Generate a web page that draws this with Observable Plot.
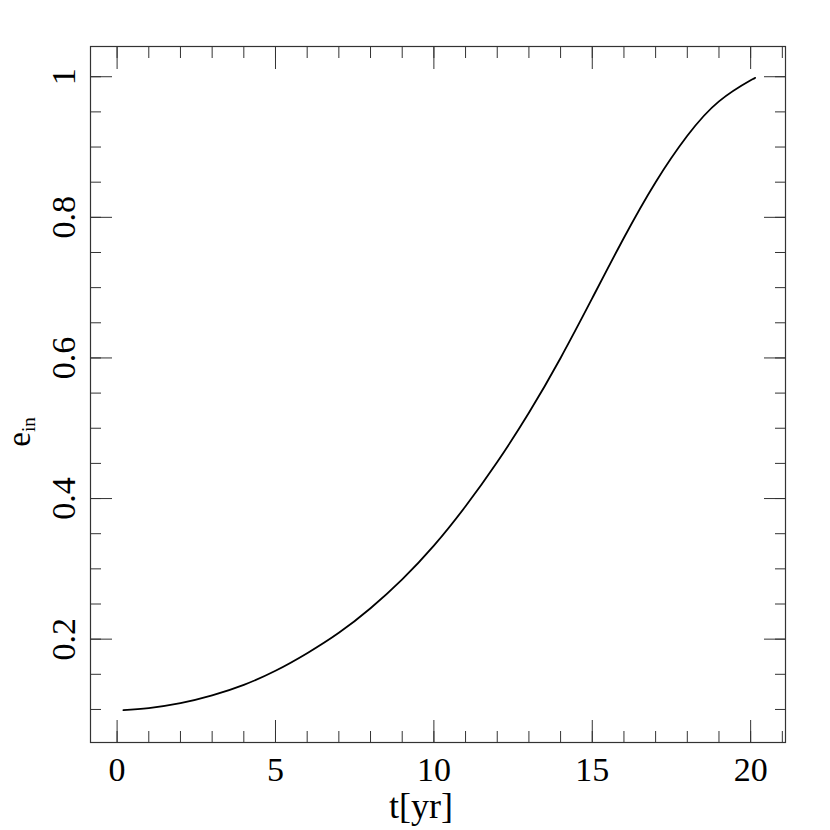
<!DOCTYPE html>
<html>
<head>
<meta charset="utf-8">
<script src="https://cdn.jsdelivr.net/npm/d3@7"></script>
<script src="https://cdn.jsdelivr.net/npm/@observablehq/plot@0.6"></script>
<style>
  html, body { margin: 0; padding: 0; background: white; }
  #chart { width: 830px; height: 830px; }
</style>
</head>
<body>
<div id="chart"></div>
<script>
// time in years
const tValues = [0.2, 1, 2, 3, 4, 5, 6, 7, 8, 9, 10, 11, 12, 13, 14, 15, 16, 17, 18, 19, 20, 20.1];
// inner eccentricity
const eValues = [0.099, 0.102, 0.109, 0.120, 0.135, 0.155, 0.180, 0.209, 0.244, 0.285, 0.333, 0.389, 0.452, 0.522, 0.600, 0.685, 0.771, 0.850, 0.916, 0.965, 0.995, 0.997];

const xMajorTicks = [0, 5, 10, 15, 20];
const xMinorTicks = [0, 1, 2, 3, 4, 5, 6, 7, 8, 9, 10, 11, 12, 13, 14, 15, 16, 17, 18, 19, 20, 21];
const yMajorTicks = [0.2, 0.4, 0.6, 0.8, 1];
const yMinorTicks = [0.1, 0.15, 0.2, 0.25, 0.3, 0.35, 0.4, 0.45, 0.5, 0.55, 0.6, 0.65, 0.7, 0.75, 0.8, 0.85, 0.9, 0.95, 1.0];
const xTickLabels = ["0", "5", "10", "15", "20"];
const yTickLabels = ["0.2", "0.4", "0.6", "0.8", "1"];

const data = tValues.map((t, i) => ({t, e: eValues[i]}));

const font = "'Liberation Serif', 'DejaVu Serif', serif";
const ink = "#000";

const chart = Plot.plot({
  width: 830,
  height: 830,
  marginLeft: 90,
  marginRight: 45,
  marginTop: 46,
  marginBottom: 88,
  x: {domain: [-0.84, 21.1], label: null},
  y: {domain: [0.053, 1.043], label: null},
  style: {fontFamily: font, fontSize: "34px", background: "white", color: ink},
  marks: [
    Plot.frame({stroke: "#333", strokeWidth: 1.2}),
    Plot.axisX(xMinorTicks, {anchor: "bottom", tickSize: -11, text: null, label: null, stroke: "#333"}),
    Plot.axisX(xMinorTicks, {anchor: "top", tickSize: -11, text: null, label: null, stroke: "#333"}),
    Plot.axisX(xMajorTicks, {anchor: "bottom", tickSize: -22, text: null, label: null, stroke: "#333"}),
    Plot.axisX(xMajorTicks, {anchor: "top", tickSize: -22, text: null, label: null, stroke: "#333"}),
    Plot.axisY(yMinorTicks, {anchor: "left", tickSize: -11, text: null, label: null, stroke: "#333"}),
    Plot.axisY(yMinorTicks, {anchor: "right", tickSize: -11, text: null, label: null, stroke: "#333"}),
    Plot.axisY(yMajorTicks, {anchor: "left", tickSize: -22, text: null, label: null, stroke: "#333"}),
    Plot.axisY(yMajorTicks, {anchor: "right", tickSize: -22, text: null, label: null, stroke: "#333"}),
    Plot.text(xMajorTicks, {
      x: d => d, frameAnchor: "bottom", dy: 14, lineAnchor: "top",
      text: (d, i) => xTickLabels[i], fontSize: 34, fill: ink
    }),
    Plot.text(yMajorTicks, {
      y: d => d, frameAnchor: "left", dx: -16, rotate: -90, lineAnchor: "bottom",
      textAnchor: "middle", text: (d, i) => yTickLabels[i], fontSize: 34, fill: ink
    }),
    Plot.line(data, {x: "t", y: "e", curve: "natural", stroke: ink, strokeWidth: 1.8})
  ]
});

document.getElementById("chart").appendChild(chart);

// axis titles
const svg = d3.select(chart);
svg.append("text")
  .attr("x", 421).attr("y", 818)
  .attr("text-anchor", "middle")
  .attr("font-family", font).attr("font-size", 36).attr("fill", ink)
  .text("t[yr]");

const yl = svg.append("text")
  .attr("transform", "translate(30,432) rotate(-90)")
  .attr("text-anchor", "middle")
  .attr("font-family", font).attr("font-size", 33).attr("fill", ink);
yl.append("tspan").text("e");
yl.append("tspan").attr("font-size", 19).attr("dy", 5).text("in");
</script>
</body>
</html>
